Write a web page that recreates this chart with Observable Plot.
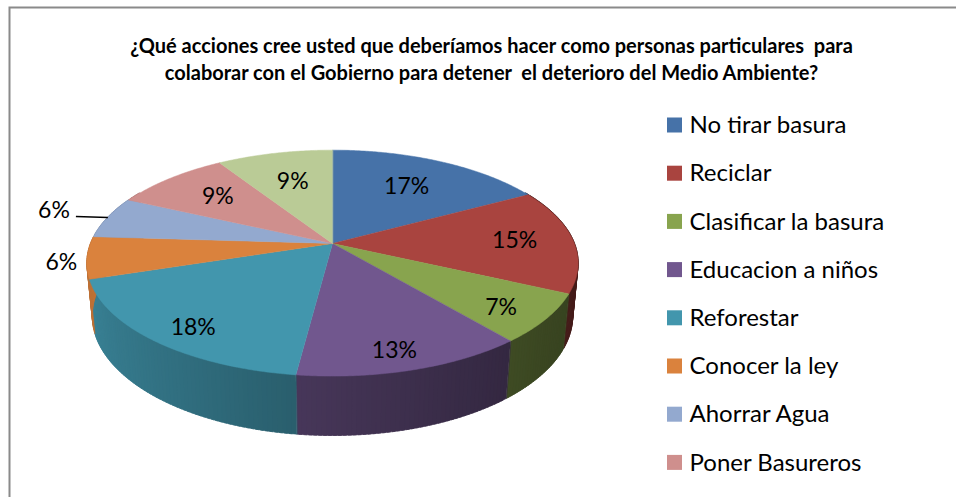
<!DOCTYPE html>
<html>
<head>
<meta charset="utf-8">
<script src="https://cdn.jsdelivr.net/npm/d3@7"></script>
<script src="https://cdn.jsdelivr.net/npm/@observablehq/plot@0.6"></script>
<style>
  html, body { margin: 0; padding: 0; background: #ffffff; }
  #chart svg { display: block; }
</style>
</head>
<body>
<div id="chart"></div>
<script>
// ---------- data ----------
const titleLines = [
  "¿Qué acciones cree usted que deberíamos hacer como personas particulares  para",
  "colaborar con el Gobierno para detener  el deterioro del Medio Ambiente?"
];
const categories = [
  "No tirar basura", "Reciclar", "Clasificar la basura", "Educacion a niños",
  "Reforestar", "Conocer la ley", "Ahorrar Agua", "Poner Basureros", "Otros"
];
const values = [17, 15, 7, 13, 18, 6, 6, 9, 9];
const colors = [
  "#4672A8", "#A9443F", "#88A44E", "#71578E", "#4296AD",
  "#DA823D", "#93A9CF", "#CF8F8D", "#BACB96"
];
// the reference legend is cut off after the 8th entry
const legendVisible = 8;

// ---------- layout ----------
const W = 956, H = 497;
const P = {cx: 332, cy: 243, F: 1241, d: 5.13, sinE: 0.453, cosE: 0.891, h: 0.247};
const FONT = "Lato, 'Noto Sans', sans-serif";

function proj(x, y, z) {
  const depth = P.d - y * P.cosE - z * P.sinE;
  return [P.cx + P.F * x / depth, P.cy + P.F * (y * P.sinE - z * P.cosE) / depth];
}
function polar(theta, r, z) {
  const t = theta * Math.PI / 180;
  return proj(r * Math.sin(t), -r * Math.cos(t), z);
}
function shade(hex, f) {
  const c = d3.rgb(hex);
  return d3.rgb(c.r * f, c.g * f, c.b * f).formatHex();
}
const wallFactor = th => 0.4 + 0.48 * (1 - Math.cos((th - 100) * Math.PI / 180)) / 2;

const total = d3.sum(values);
let acc = 0;
const slices = values.map((v, i) => {
  const a0 = acc / total * 360;
  acc += v;
  const a1 = acc / total * 360;
  return {i, name: categories[i], value: v, color: colors[i], a0, a1, mid: (a0 + a1) / 2};
});

// top faces
const topPts = [];
for (const s of slices) {
  const [ax, ay] = polar(0, 0, 0);
  topPts.push({id: "t" + s.i, x: ax, y: ay, fill: s.color});
  const n = Math.max(2, Math.ceil((s.a1 - s.a0) / 0.5));
  for (let k = 0; k <= n; k++) {
    const th = s.a0 + (s.a1 - s.a0) * k / n;
    const [x, y] = polar(th, 1, 0);
    topPts.push({id: "t" + s.i, x, y, fill: s.color});
  }
}

// side walls (thin overlapping strips for a smooth shading)
const strips = [];
for (const s of slices) {
  const lo = Math.max(s.a0, 60), hi = Math.min(s.a1, 300);
  if (hi <= lo) continue;
  const n = Math.max(1, Math.ceil((hi - lo) / 1));
  for (let k = 0; k < n; k++) {
    const t0 = lo + (hi - lo) * k / n;
    const t1 = Math.min(hi, lo + (hi - lo) * (k + 1) / n + 0.6);
    const tm = (t0 + t1) / 2;
    strips.push({t0, t1, tm, fill: shade(s.color, wallFactor(tm)), order: s.i * 1000 + k});
  }
}
const wallPts = [];
strips.forEach((st, j) => {
  const pts = [polar(st.t0, 1, 0.002), polar(st.t1, 1, 0.002), polar(st.t1, 1, -P.h), polar(st.t0, 1, -P.h)];
  for (const [x, y] of pts) wallPts.push({id: "w" + j, x, y, fill: st.fill});
});

// labels
const insideLabels = [], outsideLabels = [], leaders = [];
const outsideGap = [10, 38], leaderLen = [0, 32], outsideDy = [5, -7];
let oi = 0;
for (const s of slices) {
  const txt = Math.round(s.value / total * 100) + "%";
  if (s.value / total < 0.065) {
    const [ex, ey] = polar(s.mid, 1, 0);
    if (leaderLen[oi] > 0) leaders.push({x1: ex, y1: ey, x2: ex - leaderLen[oi], y2: ey - 1});
    outsideLabels.push({x: ex - outsideGap[oi], y: ey + outsideDy[oi], text: txt});
    oi++;
  } else {
    const r = 0.76 - 0.11 * Math.cos(s.mid * Math.PI / 180);
    const th = s.mid - 3 * Math.sin(2 * s.mid * Math.PI / 180) * (1 - Math.cos(s.mid * Math.PI / 180)) / 2;
    const [x, y] = polar(th, r, 0);
    insideLabels.push({x, y, text: txt});
  }
}

// legend
const legendItems = categories.slice(0, legendVisible).map((c, i) => ({name: c, color: colors[i], y: 125 + i * 48.2}));

const chart = Plot.plot({
  width: W, height: H,
  margin: 0,
  x: {domain: [0, W], range: [0, W], axis: null},
  y: {domain: [0, H], range: [0, H], axis: null},
  color: {type: "identity"},
  style: {background: "#ffffff", fontFamily: FONT},
  marks: [
    Plot.frame({stroke: "#8a8a8a", strokeWidth: 2, insetLeft: 9, insetTop: 7, insetRight: -10, insetBottom: -10}),
    Plot.line(wallPts, {x: "x", y: "y", z: "id", fill: "fill", stroke: "fill", strokeWidth: 0.6, curve: "linear-closed"}),
    Plot.line(topPts, {x: "x", y: "y", z: "id", fill: "fill", stroke: "fill", strokeWidth: 0.5, curve: "linear-closed"}),
    Plot.text(insideLabels, {x: "x", y: "y", text: "text", fontSize: 23, fill: "#000"}),
    Plot.text(outsideLabels, {x: "x", y: "y", text: "text", fontSize: 23, fill: "#000", textAnchor: "end"}),
    Plot.link(leaders, {x1: "x1", y1: "y1", x2: "x2", y2: "y2", stroke: "#000", strokeWidth: 1.5}),
    Plot.rect(legendItems, {x1: 667, x2: 682, y1: d => d.y - 7.5, y2: d => d.y + 7.5, fill: "color"}),
    Plot.text(legendItems, {x: 689, y: "y", text: "name", fontSize: 24, textAnchor: "start", fill: "#000"}),
    Plot.text(titleLines, {x: 491, y: (d, i) => 46 + i * 27, text: d => d, fontSize: 20, fontWeight: "bold", fill: "#000"})
  ]
});
document.getElementById("chart").appendChild(chart);
</script>
</body>
</html>
